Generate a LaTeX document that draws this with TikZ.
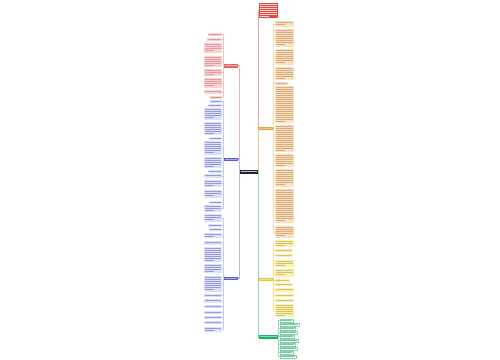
\documentclass[tikz,border=0pt]{standalone}
\usetikzlibrary{calc}
\definecolor{cred}{HTML}{E8463C}
\definecolor{credtx}{HTML}{FBD6D2}
\definecolor{cdark}{HTML}{1E2236}
\definecolor{cpink}{HTML}{EC6464}
\definecolor{cpinkbg}{HTML}{F8D2D2}
\definecolor{cpinktx}{HTML}{E79A9A}
\definecolor{cblue}{HTML}{5A5ED0}
\definecolor{cbluebg}{HTML}{DDE0F6}
\definecolor{cbluetx}{HTML}{959BDB}
\definecolor{corange}{HTML}{F0A030}
\definecolor{corbg}{HTML}{F8E0C2}
\definecolor{cortx}{HTML}{D9AD7B}
\definecolor{cyel}{HTML}{E9C72A}
\definecolor{cyelbg}{HTML}{FCEFB6}
\definecolor{cyeltx}{HTML}{D6C266}
\definecolor{cgreen}{HTML}{1AB06A}
\definecolor{cgrtx}{HTML}{7CCBA4}
\tikzset{
  blk/.style={inner sep=0pt, outer sep=0pt, draw=none},
  conn/.style={line width=0.3pt},
  trunk/.style={line width=0.55pt},
  txl/.style={line width=0.3pt},
  gitem/.style={inner sep=0pt, outer sep=0pt, draw=cgreen!55, line width=0.2pt, fill=white},
}
\newcommand\tblk[7]{%
  \node[blk, fill=#6, anchor=north west, minimum width={(#4-#2)*0.5pt}, minimum height={(#5-#3)*0.5pt}] (#1) at (#2,#3) {};
  \pgfmathtruncatemacro\nlines{max(1,floor((#5-#3-0.5)/2))}%
  \foreach \i in {1,...,\nlines}{%
    \pgfmathsetmacro\yy{#3+2*\i-0.5}%
    \pgfmathsetmacro\xe{#4-0.8}%
    \ifnum\nlines>1 \ifnum\i=\nlines \pgfmathsetmacro\xe{#2+0.8+0.55*(#4-#2-1.6)}\fi\fi
    \draw[#7, txl] (#2+0.8,\yy) -- (\xe,\yy);
  }%
}
\newcommand\gblk[4]{%
  \node[gitem, anchor=north west, minimum width={(#3)*0.5pt}, minimum height=1.6pt] (#1) at (#2) {};
  \draw[cgrtx, txl] ($(#1.west)+(1,0)$) -- ($(#1.east)+(-1,0)$);
}
\begin{document}
\begin{tikzpicture}[x=0.5pt,y=-0.5pt]
\useasboundingbox (0,0) rectangle (500,360);
\fill[white] (0,0) rectangle (500,360);

% central node
\tblk{c}{240}{170}{258}{174}{cdark}{white!75!cdark}

% right branches
\tblk{t}{259}{3}{278}{18}{cred}{credtx}
\tblk{or}{259}{127}{273}{130}{corange}{white!45!corange}
\tblk{ye}{259}{278}{273}{281}{cyel}{white!45!cyel}
\tblk{gr}{259}{335}{278}{339}{cgreen}{white!50!cgreen}

% left branches
\tblk{pk}{224}{64}{238}{67.5}{cpink}{white!45!cpink}
\tblk{bl}{224}{157.5}{238}{160.5}{cblue}{white!50!cblue}
\tblk{bm}{224}{276.5}{238}{279.5}{cblue}{white!50!cblue}

% pink children
\tblk{p1}{208}{33}{222}{36}{cpinkbg}{cpinktx}
\tblk{p2}{207}{38}{222}{41}{cpinkbg}{cpinktx}
\tblk{p3}{204}{43}{222}{53}{cpinkbg}{cpinktx}
\tblk{p4}{204}{56}{222}{67}{cpinkbg}{cpinktx}
\tblk{p5}{204}{69}{222}{76}{cpinkbg}{cpinktx}
\tblk{p6}{204}{78}{222}{88}{cpinkbg}{cpinktx}
\tblk{p7}{204}{90}{222}{94}{cpinkbg}{cpinktx}
\tblk{p8}{210}{96}{222}{98.5}{cpinkbg}{cpinktx}

% blue 1 children
\tblk{l1}{210}{100}{222}{102.5}{cbluebg}{cbluetx}
\tblk{l2}{208}{104}{222}{106.5}{cbluebg}{cbluetx}
\tblk{l3}{204}{108}{222}{120}{cbluebg}{cbluetx}
\tblk{l4}{204}{122}{222}{135}{cbluebg}{cbluetx}
\tblk{l5}{209}{137}{222}{139.5}{cbluebg}{cbluetx}
\tblk{l6}{204}{141}{222}{155}{cbluebg}{cbluetx}
\tblk{l7}{204}{157}{222}{168}{cbluebg}{cbluetx}
\tblk{l8}{208}{170}{222}{172.5}{cbluebg}{cbluetx}
\tblk{l9}{204}{174}{222}{178}{cbluebg}{cbluetx}
\tblk{l10}{204}{180}{222}{187}{cbluebg}{cbluetx}
\tblk{l11}{204}{190}{222}{198}{cbluebg}{cbluetx}
\tblk{l12}{209}{201}{222}{203.5}{cbluebg}{cbluetx}
\tblk{l13}{204}{205}{222}{212}{cbluebg}{cbluetx}

% blue 2 children
\tblk{m1}{204}{214}{222}{222}{cbluebg}{cbluetx}
\tblk{m2}{208}{224}{222}{226.5}{cbluebg}{cbluetx}
\tblk{m3}{209}{228}{222}{230.5}{cbluebg}{cbluetx}
\tblk{m4}{204}{233}{222}{238}{cbluebg}{cbluetx}
\tblk{m5}{204}{241}{222}{245}{cbluebg}{cbluetx}
\tblk{m6}{204}{247}{222}{262}{cbluebg}{cbluetx}
\tblk{m7}{204}{264}{222}{273}{cbluebg}{cbluetx}
\tblk{m8}{204}{276}{222}{292}{cbluebg}{cbluetx}
\tblk{m9}{204}{294}{222}{297}{cbluebg}{cbluetx}
\tblk{m10}{204}{299}{222}{303}{cbluebg}{cbluetx}
\tblk{m11}{204}{305}{222}{308}{cbluebg}{cbluetx}
\tblk{m12}{204}{311}{222}{314}{cbluebg}{cbluetx}
\tblk{m13}{204}{316}{222}{319}{cbluebg}{cbluetx}
\tblk{m14}{204}{321}{222}{324}{cbluebg}{cbluetx}
\tblk{m15}{204}{327}{222}{332}{cbluebg}{cbluetx}

% orange children
\tblk{o1}{275}{21}{294}{27}{corbg}{cortx}
\tblk{o2}{275}{29}{294}{47}{corbg}{cortx}
\tblk{o3}{275}{49}{294}{65}{corbg}{cortx}
\tblk{o4}{275}{67}{294}{80}{corbg}{cortx}
\tblk{o5}{275}{82}{288}{84.5}{corbg}{cortx}
\tblk{o6}{275}{86}{294}{123}{corbg}{cortx}
\tblk{o7}{275}{125}{294}{152}{corbg}{cortx}
\tblk{o8}{275}{154}{294}{167}{corbg}{cortx}
\tblk{o9}{275}{169}{294}{187}{corbg}{cortx}
\tblk{o10}{275}{189}{294}{223}{corbg}{cortx}
\tblk{o11}{275}{226}{294}{238}{corbg}{cortx}

% yellow children
\tblk{y1}{275}{240}{294}{247}{cyelbg}{cyeltx}
\tblk{y2}{275}{249}{293}{252}{cyelbg}{cyeltx}
\tblk{y3}{275}{254}{293}{257}{cyelbg}{cyeltx}
\tblk{y4}{275}{260}{294}{267}{cyelbg}{cyeltx}
\tblk{y5}{275}{269}{294}{277}{cyelbg}{cyeltx}
\tblk{y6}{275}{279}{290}{281.5}{cyelbg}{cyeltx}
\tblk{y7}{275}{283}{293}{286}{cyelbg}{cyeltx}
\tblk{y8}{275}{288}{294}{292}{cyelbg}{cyeltx}
\tblk{y9}{275}{294}{294}{297}{cyelbg}{cyeltx}
\tblk{y10}{275}{299}{294}{302}{cyelbg}{cyeltx}
\tblk{y11}{275}{304}{294}{317}{cyelbg}{cyeltx}

% green children
\gblk{g1}{280,319}{13}{}
\gblk{g2}{280,323}{19}{}
\gblk{g3}{280,327}{15}{}
\gblk{g4}{280,331}{17}{}
\gblk{g5}{280,335}{14}{}
\gblk{g6}{280,339}{18}{}
\gblk{g7}{280,343}{15}{}
\gblk{g8}{280,347}{17}{}
\gblk{g9}{280,351}{13}{}
\gblk{g10}{280,355}{16}{}

% trunk connectors
\draw[trunk, cred!50] (c.east) -- ++(0.5,0) |- (t.west);
\draw[trunk, corange!60] (c.east) -- ++(0.5,0) |- (or.west);
\draw[trunk, cyel!70] (c.east) -- ++(0.5,0) |- (ye.west);
\draw[trunk, cgreen!50] (c.east) -- ++(0.5,0) |- (gr.west);
\draw[trunk, cpink!50] (c.west) -- ++(-0.6,0) |- (pk.east);
\draw[trunk, cblue!45] (c.west) -- ++(-0.6,0) |- (bl.east);
\draw[trunk, cblue!45] (c.west) -- ++(-0.6,0) |- (bm.east);

% child connectors
\foreach \k in {1,...,8}{\draw[conn, cpink!40] (pk.west) -- ++(-0.6,0) |- (p\k.east);}
\foreach \k in {1,...,13}{\draw[conn, cblue!35] (bl.west) -- ++(-0.6,0) |- (l\k.east);}
\foreach \k in {1,...,15}{\draw[conn, cblue!35] (bm.west) -- ++(-0.6,0) |- (m\k.east);}
\foreach \k in {1,...,11}{\draw[conn, corange!45] (or.east) -- ++(0.7,0) |- (o\k.west);}
\foreach \k in {1,...,11}{\draw[conn, cyel!55] (ye.east) -- ++(0.7,0) |- (y\k.west);}
\foreach \k in {1,...,10}{\draw[conn, cgreen!45] (gr.east) -- ++(0.7,0) |- (g\k.west);}
\end{tikzpicture}
\end{document}
